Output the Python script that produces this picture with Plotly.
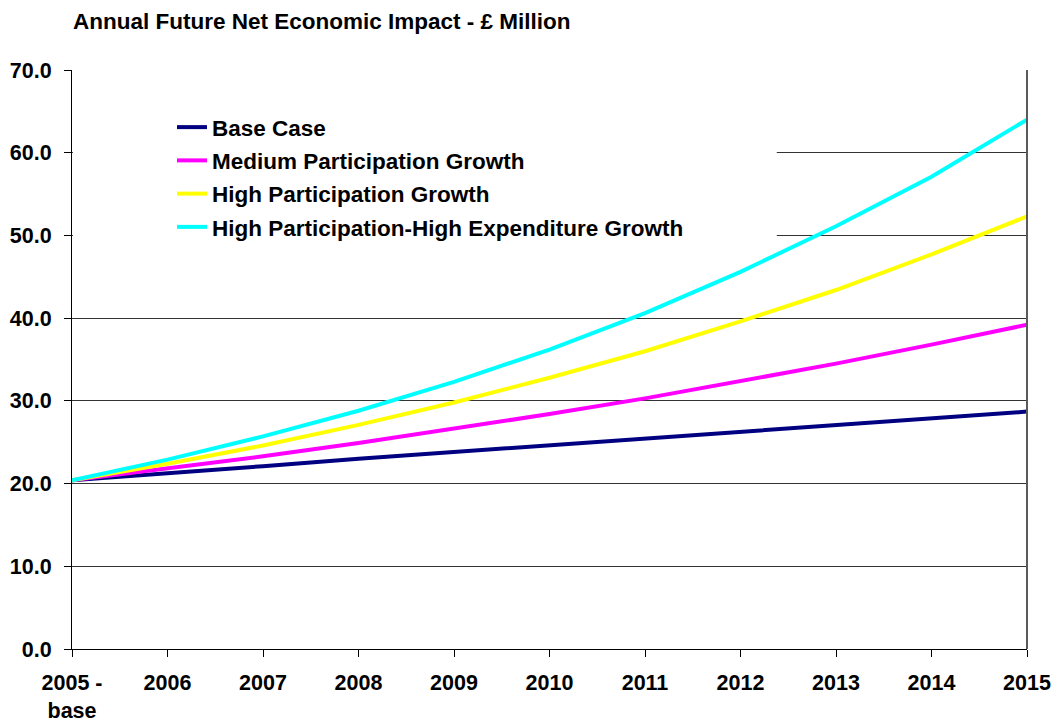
import plotly.graph_objects as go

# Category labels for the x axis (first year is the base year)
years = ["2005 -<br>base", "2006", "2007", "2008", "2009", "2010",
         "2011", "2012", "2013", "2014", "2015"]

# Annual net economic impact, £ million, per scenario
base_case = [20.4, 21.2, 22.1, 23.0, 23.8, 24.6, 25.4, 26.2, 27.0, 27.8, 28.7]
medium_participation = [20.4, 21.8, 23.3, 24.9, 26.6, 28.4, 30.3, 32.4, 34.5, 36.8, 39.2]
high_participation = [20.4, 22.4, 24.6, 27.1, 29.8, 32.8, 36.0, 39.6, 43.4, 47.7, 52.3]
high_part_high_exp = [20.4, 22.9, 25.7, 28.8, 32.3, 36.2, 40.6, 45.6, 51.1, 57.1, 64.0]

series = [
    ("Base Case", base_case, "#000080"),
    ("Medium Participation Growth", medium_participation, "#FF00FF"),
    ("High Participation Growth", high_participation, "#FFFF00"),
    ("High Participation-High Expenditure Growth", high_part_high_exp, "#00FFFF"),
]

y_ticks = [0, 10, 20, 30, 40, 50, 60, 70]

FONT = "Liberation Sans, Arial, sans-serif"

fig = go.Figure()
for i, (name, vals, color) in enumerate(series):
    fig.add_trace(go.Scatter(
        x=years, y=vals, name=name, mode="lines",
        line=dict(color=color, width=4),
        legendgroup=f"g{i}",
    ))

fig.update_layout(
    width=1055, height=722,
    margin=dict(l=72, r=28, t=70, b=73),
    paper_bgcolor="white", plot_bgcolor="white",
    font=dict(family=FONT, size=21, color="black"),
    title=dict(
        text="<b>Annual Future Net Economic Impact - £ Million</b>",
        font=dict(family=FONT, size=22.5, color="black"),
        xref="container", yref="container",
        x=73 / 1055, xanchor="left",
        y=1 - 21 / 722, yanchor="middle",
    ),
    showlegend=True,
    legend=dict(
        x=100 / 955, xanchor="left",
        y=1 - 36 / 579, yanchor="top",
        bgcolor="rgba(0,0,0,0)",
        font=dict(family=FONT, size=22.5, color="black", weight="bold"),
        tracegroupgap=1,
        itemwidth=30,
    ),
    xaxis=dict(
        type="category",
        range=[0, 10],
        showgrid=False,
        showline=True, linecolor="black", linewidth=1,
        ticks="outside", ticklen=7, tickcolor="black",
        tickfont=dict(family=FONT, size=21.5, color="black", weight="bold"),
        ticklabelstandoff=7,
        automargin=False,
        zeroline=False,
    ),
    yaxis=dict(
        range=[0, 70],
        tickvals=y_ticks,
        tickformat=".1f",
        showgrid=True, gridcolor="#333333", gridwidth=1,
        showline=True, linecolor="black", linewidth=1,
        ticks="outside", ticklen=7, tickcolor="black",
        tickfont=dict(family=FONT, size=21.5, color="black", weight="bold"),
        ticklabelstandoff=8,
        automargin=False,
        zeroline=False,
    ),
)

# white panel behind the legend, sitting over the gridlines but under the lines
fig.add_shape(
    type="rect", xref="x", yref="y",
    x0=0.01, x1=7.38, y0=46.6, y1=68.5,
    fillcolor="white", line=dict(width=0), layer="between",
)
# plot-area frame on the right
fig.add_shape(
    type="line", xref="paper", yref="paper",
    x0=1, x1=1, y0=0, y1=1,
    line=dict(color="#5a5a5a", width=2),
)

fig.write_html("out.html")
